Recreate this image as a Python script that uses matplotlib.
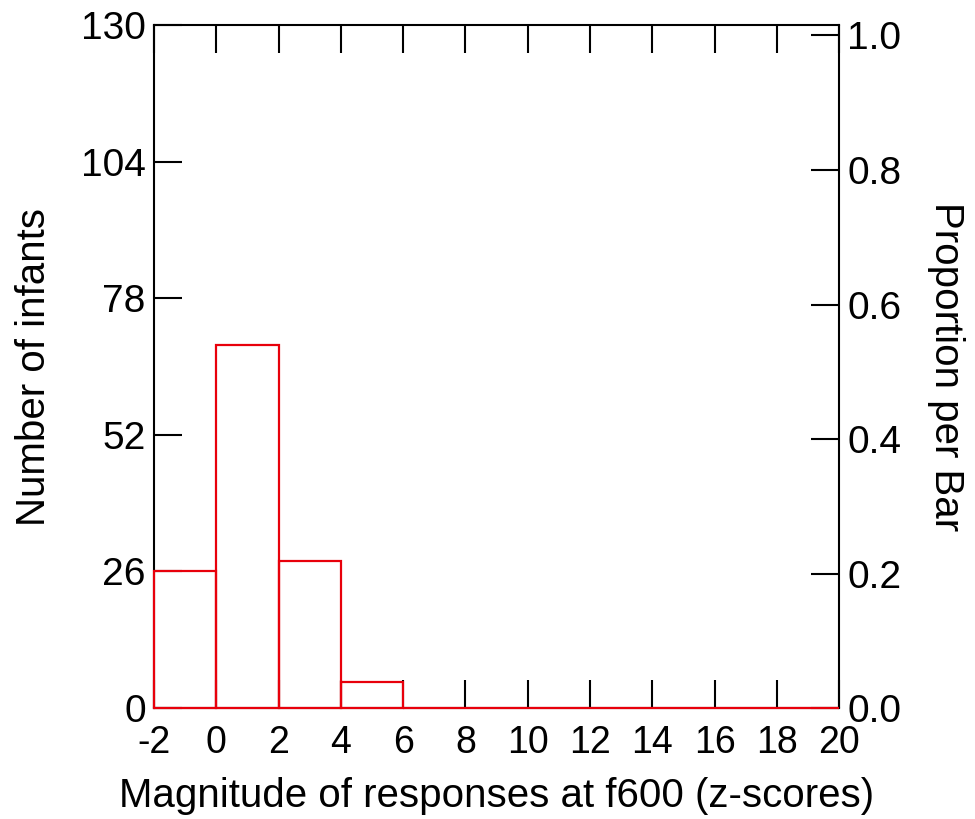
import matplotlib
matplotlib.use("Agg")
import matplotlib.pyplot as plt

# histogram data
bin_edges = [-2, 0, 2, 4, 6, 8, 10, 12, 14, 16, 18, 20]
counts = [26, 69, 28, 5, 0, 0, 0, 0, 0, 0, 0]
y_ticks = [0, 26, 52, 78, 104, 130]
prop_ticks = [0.0, 0.2, 0.4, 0.6, 0.8, 1.0]
x_ticks = list(range(-2, 21, 2))

plt.rcParams['font.family'] = ['Liberation Sans', 'DejaVu Sans']
plt.rcParams['font.size'] = 28

fig = plt.figure(figsize=(9.75, 8.19), dpi=100)
ax = fig.add_axes([0.158, 0.1355, 0.7026, 0.834])
ax2 = ax.twinx()

# bars sit above the frame lines, like the original
ax.set_zorder(ax2.get_zorder() + 1)
ax.patch.set_visible(False)

lefts = bin_edges[:-1]
widths = [b - a for a, b in zip(bin_edges[:-1], bin_edges[1:])]
ax.bar(lefts, counts, width=widths, align='edge', facecolor='none',
       edgecolor='#e8000b', linewidth=1.6, zorder=3, clip_on=False)

ax.set_xlim(-2, 20)
ax.set_ylim(0, 130)
ax.set_xticks(x_ticks)
ax.set_xticklabels([str(t) for t in x_ticks],
                   family=['Liberation Sans Narrow', 'Liberation Sans'], fontsize=27)
ax.set_yticks(y_ticks)

for s in ax.spines.values():
    s.set_linewidth(1.5)
ax.spines['right'].set_visible(False)

ax.tick_params(axis='both', direction='in', length=20, width=1.5)
ax.tick_params(axis='x', top=True, pad=12)
ax.tick_params(axis='y', pad=6, labelsize=28)

ax.set_xlabel('Magnitude of responses at f600 (z-scores)', fontsize=29, labelpad=12)
ax.set_ylabel('Number of infants', fontsize=29, labelpad=20)

total = sum(counts)
ax2.set_ylim(0, 130 / total)
ax2.set_yticks(prop_ticks)
ax2.set_yticklabels([f'{t:.1f}' for t in prop_ticks])
ax2.tick_params(axis='y', direction='in', length=20, width=1.5, labelsize=28, pad=6)
for name, s in ax2.spines.items():
    s.set_linewidth(1.5)
    s.set_visible(name == 'right')
ax2.set_ylabel('Proportion per Bar', fontsize=29, rotation=270, labelpad=46)

fig.savefig('out.png', dpi=100)
